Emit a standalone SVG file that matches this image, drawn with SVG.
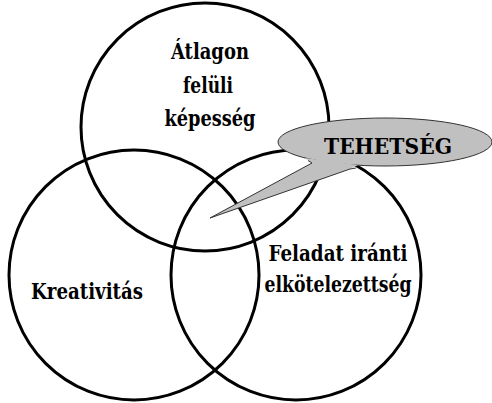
<svg xmlns="http://www.w3.org/2000/svg" width="492" height="403" viewBox="0 0 492 403">
<style>
.c{fill:none;stroke:#000;stroke-width:3}
.t{font-family:'DejaVu Serif','Liberation Serif',serif;font-stretch:condensed;font-weight:700;font-size:22px;text-anchor:middle;fill:#000}
</style>
<rect width="492" height="403" fill="#fff"/>
<g id="circle-top"><circle class="c" cx="205" cy="127" r="124"/></g>
<g id="circle-left"><circle class="c" cx="134" cy="275" r="125"/></g>
<g id="circle-right"><circle class="c" cx="296" cy="275" r="125"/></g>
<g id="callout">
<ellipse cx="385" cy="142" rx="107" ry="24" fill="#c0c0c0" stroke="#333" stroke-width="1"/>
<path d="M305,158 L312,163 L210,218 L350,169 L358,165" fill="#c0c0c0" stroke="none"/>
<path d="M308,160.5 L312,163 L210,218 L350,169 L356,168" fill="none" stroke="#333" stroke-width="1"/>
<text class="t" x="388" y="154" textLength="128" lengthAdjust="spacingAndGlyphs">TEHETSÉG</text>
</g>
<g id="labels">
<text class="t" x="210" y="59" textLength="78" lengthAdjust="spacingAndGlyphs">Átlagon</text>
<text class="t" x="208" y="93" textLength="50" lengthAdjust="spacingAndGlyphs">felüli</text>
<text class="t" x="210" y="126" textLength="91" lengthAdjust="spacingAndGlyphs">képesség</text>
<text class="t" x="87" y="299" textLength="112" lengthAdjust="spacingAndGlyphs">Kreativitás</text>
<text class="t" x="338" y="261" textLength="139" lengthAdjust="spacingAndGlyphs">Feladat iránti</text>
<text class="t" x="338" y="292" textLength="147" lengthAdjust="spacingAndGlyphs">elkötelezettség</text>
</g>
</svg>
